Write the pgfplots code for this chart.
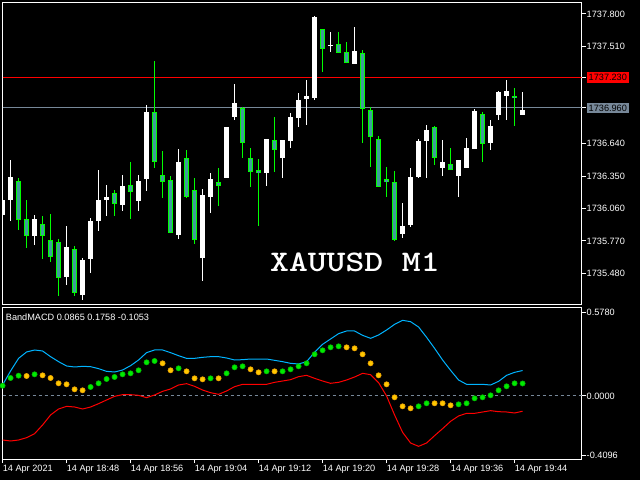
\documentclass[border=0pt]{standalone}
\usepackage{pgfplots}
\pgfplotsset{compat=1.18}
\usepackage{pgfplotstable}
\usepackage{graphicx}
\usepackage{fontspec}
\setmainfont{Liberation Sans}
\definecolor{bgreen}{RGB}{0,255,0}
\definecolor{bfill}{RGB}{62,158,155}
\definecolor{slate}{RGB}{119,136,153}
\definecolor{skyb}{RGB}{0,180,255}
\definecolor{dotg}{RGB}{0,235,0}
\definecolor{dotgedge}{RGB}{0,185,0}
\definecolor{doty}{RGB}{255,200,0}
\definecolor{dotyedge}{RGB}{235,160,0}
\setlength{\fboxsep}{2bp}

% k open high low close  (white = rising candles)
\pgfplotstableread{
k o h l c
0 1736.01 1736.15 1736.01 1736.15
1 1736.14 1736.50 1735.95 1736.35
4 1735.82 1736.01 1735.74 1735.97
8 1735.45 1735.92 1735.39 1735.72
10 1735.29 1735.62 1735.25 1735.60
11 1735.61 1735.98 1735.49 1735.95
12 1735.95 1736.41 1735.86 1736.14
13 1736.14 1736.28 1736.00 1736.16
15 1736.10 1736.37 1736.05 1736.27
17 1736.14 1736.37 1736.05 1736.32
18 1736.33 1737.00 1736.23 1736.93
22 1735.83 1736.61 1735.80 1736.48
25 1735.63 1736.24 1735.42 1736.19
26 1736.16 1736.40 1736.04 1736.32
28 1736.34 1736.80 1736.34 1736.79
29 1736.89 1737.18 1736.86 1737.01
33 1736.38 1736.68 1736.27 1736.68
35 1736.51 1736.67 1736.34 1736.67
36 1736.67 1736.91 1736.60 1736.88
37 1736.87 1737.10 1736.80 1737.04
38 1737.03 1737.22 1736.82 1737.06
39 1737.05 1737.80 1737.05 1737.78
41 1737.52 1737.64 1737.46 1737.53
44 1737.37 1737.69 1737.37 1737.48
50 1735.85 1736.11 1735.80 1735.92
51 1735.92 1736.43 1735.90 1736.35
52 1736.34 1736.69 1736.34 1736.66
53 1736.66 1736.81 1736.34 1736.76
55 1736.44 1736.68 1736.36 1736.49
57 1736.36 1736.50 1736.17 1736.50
58 1736.43 1736.70 1736.43 1736.61
59 1736.60 1736.96 1736.60 1736.94
61 1736.65 1736.86 1736.59 1736.80
62 1736.91 1737.12 1736.86 1737.11
63 1737.08 1737.21 1736.85 1737.13
65 1736.91 1737.11 1736.91 1736.96
}\bulltab

% falling candles (green outline)
\pgfplotstableread{
k o h l c
2 1736.31 1736.34 1735.87 1735.96
3 1735.97 1736.14 1735.71 1735.82
5 1735.93 1735.99 1735.61 1735.82
6 1735.79 1736.02 1735.59 1735.64
7 1735.76 1735.79 1735.28 1735.44
9 1735.71 1735.73 1735.29 1735.31
14 1736.20 1736.23 1736.00 1736.10
16 1736.27 1736.48 1735.97 1736.21
19 1736.93 1737.38 1736.42 1736.48
20 1736.36 1736.57 1736.15 1736.30
21 1736.32 1736.36 1735.85 1735.85
23 1736.52 1736.60 1736.17 1736.17
24 1736.22 1736.34 1735.75 1735.77
27 1736.31 1736.43 1736.09 1736.27
30 1736.97 1736.97 1736.51 1736.66
31 1736.53 1736.62 1736.27 1736.40
32 1736.40 1736.51 1735.91 1736.38
34 1736.69 1736.89 1736.40 1736.60
40 1737.67 1737.67 1737.30 1737.49
42 1737.54 1737.64 1737.46 1737.46
43 1737.47 1737.55 1737.37 1737.37
45 1737.46 1737.49 1736.66 1736.96
46 1736.95 1736.96 1736.43 1736.71
47 1736.69 1736.71 1736.26 1736.26
48 1736.33 1736.44 1736.17 1736.31
49 1736.31 1736.40 1735.77 1735.79
54 1736.79 1736.80 1736.45 1736.52
56 1736.46 1736.60 1736.40 1736.41
60 1736.92 1736.92 1736.47 1736.65
64 1737.08 1737.14 1736.80 1737.06
}\beartab

\pgfplotstableread{
k v
0 0.0760
1 0.1727
2 0.2601
3 0.3039
4 0.3177
5 0.3108
6 0.2716
7 0.2371
8 0.2072
9 0.2003
10 0.2049
11 0.2026
12 0.1888
13 0.1703
14 0.1657
15 0.1796
16 0.2095
17 0.2486
18 0.2993
19 0.3177
20 0.3177
21 0.2993
22 0.2785
23 0.2601
24 0.2601
25 0.2670
26 0.2716
27 0.2716
28 0.2624
29 0.2486
30 0.2509
31 0.2555
32 0.2555
33 0.2555
34 0.2463
35 0.2371
36 0.2256
37 0.2210
38 0.2371
39 0.3016
40 0.3568
41 0.3936
42 0.4305
43 0.4489
44 0.4489
45 0.4190
46 0.3982
47 0.4213
48 0.4558
49 0.4949
50 0.5226
51 0.5133
52 0.4765
53 0.4052
54 0.3292
55 0.2486
56 0.1773
57 0.1105
58 0.0806
59 0.0806
60 0.0806
61 0.0760
62 0.1013
63 0.1427
64 0.1634
65 0.1758
}\upband

\pgfplotstableread{
k v
0 -0.3039
1 -0.3108
2 -0.3039
3 -0.2878
4 -0.2601
5 -0.2003
6 -0.1312
7 -0.0898
8 -0.0714
9 -0.0760
10 -0.0898
11 -0.0760
12 -0.0529
13 -0.0276
14 -0.0023
15 0.0092
16 0.0092
17 0.0046
18 -0.0115
19 0.0069
20 0.0322
21 0.0483
22 0.0760
23 0.0852
24 0.0668
25 0.0414
26 0.0230
27 0.0115
28 0.0345
29 0.0645
30 0.0806
31 0.0806
32 0.0806
33 0.0806
34 0.0944
35 0.1036
36 0.1128
37 0.1335
38 0.1427
39 0.1220
40 0.1036
41 0.0875
42 0.0944
43 0.1105
44 0.1312
45 0.1565
46 0.1473
47 0.0921
48 0.0000
49 -0.1312
50 -0.2509
51 -0.3246
52 -0.3476
53 -0.3246
54 -0.2739
55 -0.2256
56 -0.1750
57 -0.1381
58 -0.1197
59 -0.1197
60 -0.1105
61 -0.1013
62 -0.1082
63 -0.1105
64 -0.1174
65 -0.1053
}\lowband

\pgfplotstableread{
k v
0 0.0714
1 0.1243
2 0.1404
4 0.1496
11 0.0622
12 0.0875
13 0.1174
14 0.1312
15 0.1496
16 0.1565
17 0.1773
18 0.2325
19 0.2417
22 0.1911
26 0.1220
28 0.1565
29 0.1980
30 0.2049
33 0.1703
35 0.1703
36 0.1842
37 0.2049
38 0.2256
39 0.2878
40 0.3154
41 0.3361
42 0.3430
52 -0.0714
53 -0.0506
57 -0.0576
58 -0.0506
59 -0.0161
60 -0.0092
61 0.0046
62 0.0391
63 0.0668
64 0.0875
65 0.0865
}\macdup

\pgfplotstableread{
k v
3 0.1381
5 0.1427
6 0.1243
7 0.0875
8 0.0806
9 0.0460
10 0.0391
20 0.2256
21 0.1773
23 0.1703
24 0.1220
25 0.1151
27 0.1220
31 0.1842
32 0.1634
34 0.1703
43 0.3361
44 0.3292
45 0.2878
46 0.2256
47 0.1427
48 0.0806
49 -0.0092
50 -0.0714
51 -0.0852
54 -0.0506
55 -0.0506
56 -0.0645
}\macddown

\pgfplotsset{
  mt/.style={
    scale only axis, width=579bp,
    xmin=-0.01, xmax=72.365,
    axis line style={white, line width=1bp},
    tick style={white, line width=1bp},
    tick align=outside, major tick length=4bp,
    ytick pos=right, yticklabel pos=right,
    ticklabel style={white, font=\fontsize{9.2}{10}\selectfont, inner sep=1bp},
    axis background/.style={fill=black},
  },
  candle/.style 2 args={draw=none, no markers, forget plot,
    error bars/.cd, y dir=both, y explicit, error mark=none,
    error bar style={draw=#1, line width=#2}},
}

\begin{document}
\begin{tikzpicture}
\fill[black] (0,0) rectangle (640bp,480bp);

% ---------------- price panel ----------------
\begin{axis}[mt, at={(2.5bp,175bp)}, anchor=south west, height=302.5bp,
  ymin=1735.1965, ymax=1737.9029, xtick=\empty,
  ytick={1735.48,1735.77,1736.06,1736.35,1736.64,1737.51,1737.8},
  yticklabels={1735.480,1735.770,1736.060,1736.350,1736.640,1737.510,1737.800},
  extra y ticks={1736.96,1737.23},
  extra y tick labels={{\colorbox{slate}{\color{black}1736.960}},{\colorbox{red}{\color{black}1737.230}}},
  extra y tick style={yticklabel style={inner sep=0pt, xshift=1bp}},
]
\node[anchor=base west, inner sep=0pt, text=white,
  font=\ttfamily\bfseries\fontsize{30}{30}\selectfont,
  xshift=267.5bp, yshift=33.3bp] at (rel axis cs:0,0) {\scalebox{1.2}[1]{XAUUSD M1}};

\addplot[red, line width=1bp, forget plot] coordinates {(-0.01,1737.23) (72.365,1737.23)};
\addplot[slate, line width=1bp, forget plot] coordinates {(-0.01,1736.96) (72.365,1736.96)};

% wicks
\addplot[candle={white}{1bp}] table[x=k, y expr={(\thisrow{h}+\thisrow{l})/2}, y error expr={(\thisrow{h}-\thisrow{l})/2}] {\bulltab};
\addplot[candle={bgreen}{1bp}] table[x=k, y expr={(\thisrow{h}+\thisrow{l})/2}, y error expr={(\thisrow{h}-\thisrow{l})/2}] {\beartab};
% bodies
\addplot[candle={white}{5bp}] table[x=k, y expr={(\thisrow{o}+\thisrow{c})/2}, y error expr={abs(\thisrow{o}-\thisrow{c})/2}] {\bulltab};
\addplot[candle={bgreen}{5bp}] table[x=k, y expr={(\thisrow{o}+\thisrow{c})/2}, y error expr={abs(\thisrow{o}-\thisrow{c})/2}] {\beartab};
\addplot[candle={bfill}{3bp}] table[x=k, y expr={(\thisrow{o}+\thisrow{c})/2}, y error expr={max(abs(\thisrow{o}-\thisrow{c})/2-0.009,0)}] {\beartab};
\end{axis}

% ---------------- indicator panel ----------------
\begin{axis}[mt, at={(2.5bp,21bp)}, anchor=south west, height=151.5bp,
  ymin=-0.4351, ymax=0.6112,
  ytick={-0.4096,0,0.578}, yticklabels={-0.4096,0.0000,0.5780},
  xtick={0,8,...,64}, xtick pos=bottom,
  xticklabels={14 Apr 2021,14 Apr 18:48,14 Apr 18:56,14 Apr 19:04,14 Apr 19:12,14 Apr 19:20,14 Apr 19:28,14 Apr 19:36,14 Apr 19:44},
  xticklabel style={anchor=north west, inner sep=0pt, text height=6.6bp, yshift=-1.5bp},
]
\addplot[slate, line width=1bp, dash pattern=on 3bp off 3bp, forget plot] coordinates {(-0.01,0) (72.365,0)};
\addplot[skyb, line width=1bp, forget plot] table[x=k, y=v] {\upband};
\addplot[red, line width=1bp, forget plot] table[x=k, y=v] {\lowband};
\addplot[only marks, mark=*, mark size=2.6bp, mark options={fill=dotg, draw=dotgedge, line width=0.6bp}, forget plot] table[x=k, y=v] {\macdup};
\addplot[only marks, mark=*, mark size=2.6bp, mark options={fill=doty, draw=dotyedge, line width=0.6bp}, forget plot] table[x=k, y=v] {\macddown};
\node[anchor=base west, inner sep=0pt, text=white, font=\fontsize{9.2}{10}\selectfont,
  xshift=3.2bp, yshift=-12.8bp] at (rel axis cs:0,1) {BandMACD 0.0865 0.1758 -0.1053};
\end{axis}

\pgfresetboundingbox
\path (0,0) rectangle (640bp,480bp);
\end{tikzpicture}
\end{document}
